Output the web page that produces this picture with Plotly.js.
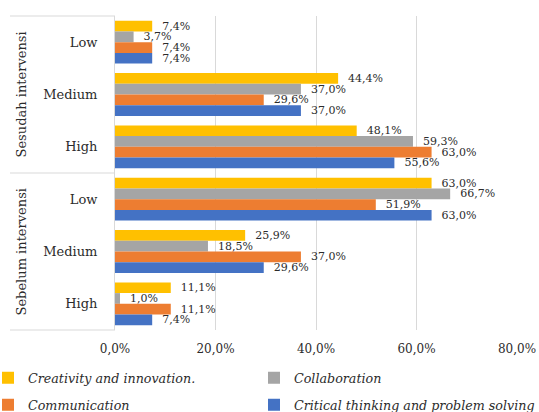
<!DOCTYPE html>
<html>
<head>
<meta charset="utf-8">
<script src="https://cdn.plot.ly/plotly-3.0.1.min.js"></script>
<style>html,body{margin:0;padding:0;background:#fff;}#chart{width:539px;height:412px;}</style>
</head>
<body>
<div id="chart"></div>
<script>
const groups = ["Sesudah intervensi", "Sebelum intervensi"];
const levels = ["Low", "Medium", "High"];
// order of rows from top: Sesudah Low, Medium, High, Sebelum Low, Medium, High
const creativity    = [7.4, 44.4, 48.1, 63.0, 25.9, 11.1];
const collaboration = [3.7, 37.0, 59.3, 66.7, 18.5, 1.0];
const communication = [7.4, 29.6, 63.0, 51.9, 37.0, 11.1];
const critical      = [7.4, 37.0, 55.6, 63.0, 29.6, 7.4];
const seriesNames = ["Creativity and innovation.", "Collaboration", "Communication", "Critical thinking and problem solving"];
const colors = ["#FFC000", "#A5A5A5", "#ED7D31", "#4472C4"];
const xTicks = [0, 20, 40, 60, 80];
const xTickText = ["0,0%", "20,0%", "40,0%", "60,0%", "80,0%"];

const categories = [];
const tickText = [];
groups.forEach(g => levels.forEach(l => { categories.push(g + " | " + l); tickText.push(l); }));

const FONT = "DejaVu Serif";
const TXT = "#2b2b2b";

const series = [creativity, collaboration, communication, critical];
const legendIds = ["legend", "legend2", "legend3", "legend4"];
const data = series.map((vals, i) => ({
  type: "bar",
  orientation: "h",
  name: seriesNames[i],
  x: vals,
  y: categories,
  marker: {color: colors[i], line: {width: 0}},
  texttemplate: "\u00A0\u00A0%{x:.1f}%",
  textposition: "outside",
  constraintext: "none",
  cliponaxis: false,
  textfont: {family: FONT, size: 11, color: TXT},
  legend: legendIds[i],
  hoverinfo: "skip"
}));

const pw = 402, ph = 314, L = 115, T = 16;
const px = v => (v - L) / pw;
const py = v => (T + ph - v) / ph;

function legendAt(xLeft, yCenter) {
  return {
    x: px(xLeft), xanchor: "left", y: py(yCenter), yanchor: "middle",
    orientation: "v", bgcolor: "rgba(0,0,0,0)", borderwidth: 0,
    font: {family: FONT, size: 12.7, color: TXT, style: "italic"},
    itemwidth: 30
  };
}

const layout = {
  width: 539, height: 412,
  margin: {l: L, r: 539 - L - pw, t: T, b: 412 - T - ph, autoexpand: false},
  paper_bgcolor: "#fff", plot_bgcolor: "#fff",
  separators: ",.",
  barmode: "group",
  bargap: 0.18,
  bargroupgap: 0,
  uniformtext: {mode: "show", minsize: 11},
  xaxis: {
    range: [0, 80],
    tickmode: "array",
    tickvals: xTicks,
    ticktext: xTickText,
    automargin: false,
    showgrid: true, gridcolor: "#D9D9D9", gridwidth: 1,
    zeroline: false, showline: false,
    ticks: "outside", ticklen: 8, tickcolor: "rgba(0,0,0,0)",
    tickfont: {family: FONT, size: 12, color: TXT},
    fixedrange: true
  },
  yaxis: {
    type: "category",
    categoryorder: "array", categoryarray: categories,
    tickmode: "array",
    tickvals: categories, ticktext: tickText,
    autorange: "reversed",
    automargin: false,
    showgrid: false, zeroline: false,
    showline: true, linecolor: "#D9D9D9", linewidth: 1,
    ticks: "outside", ticklen: 14, tickcolor: "rgba(0,0,0,0)",
    tickfont: {family: FONT, size: 13, color: TXT},
    fixedrange: true
  },
  showlegend: true,
  legend: legendAt(-12, 378),
  legend2: legendAt(254, 378),
  legend3: legendAt(-12, 405),
  legend4: legendAt(254, 405),
  shapes: [1, 0.5, 0].map(yv => ({
    type: "line", xref: "paper", yref: "paper",
    x0: px(10), x1: 0, y0: yv, y1: yv,
    line: {color: "#D9D9D9", width: 1}
  })),
  annotations: [
    {text: groups[0], xref: "paper", yref: "y", x: px(21), xanchor: "center", yanchor: "middle", y: categories[1], textangle: -90, showarrow: false, font: {family: FONT, size: 13, color: TXT}},
    {text: groups[1], xref: "paper", yref: "y", x: px(21), xanchor: "center", yanchor: "middle", y: categories[4], textangle: -90, showarrow: false, font: {family: FONT, size: 13, color: TXT}}
  ]
};

Plotly.newPlot("chart", data, layout, {displayModeBar: false, staticPlot: true});
</script>
</body>
</html>
